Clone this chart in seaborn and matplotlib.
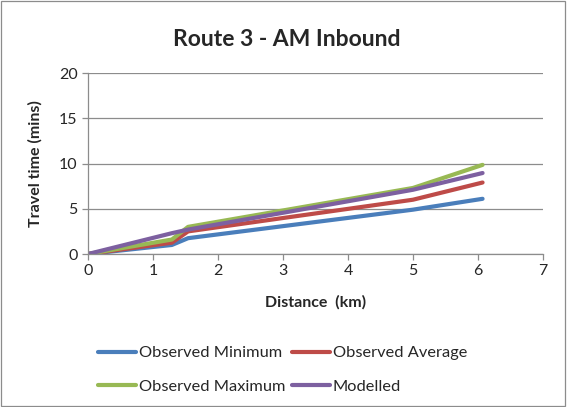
import pandas as pd
import numpy as np
import matplotlib
matplotlib.use('Agg')
import matplotlib.pyplot as plt
import seaborn as sns

# data
distance = [0, 1.29, 1.54, 5.0, 6.07]
obs_min = [0, 1.0, 1.75, 4.9, 6.1]
obs_avg = [0, 1.25, 2.5, 6.0, 7.9]
obs_max = [0, 1.6, 3.0, 7.3, 9.85]
modelled = [0, 2.3, 2.7, 7.1, 8.95]

series_names = ['Observed Minimum', 'Observed Average', 'Observed Maximum', 'Modelled']
colors = ['#4a7ebb', '#be4b48', '#98b954', '#7d60a0']

frames = []
for name, vals in zip(series_names, [obs_min, obs_avg, obs_max, modelled]):
    frames.append(pd.DataFrame({'Distance': distance, 'Time': vals, 'Series': name}))
df = pd.concat(frames, ignore_index=True)

sns.set_style('white')
plt.rcParams['font.family'] = ['Lato', 'DejaVu Sans']

fig = plt.figure(figsize=(5.67, 4.07), dpi=100)
ax = fig.add_axes([0.1552, 0.3759, 0.8025, 0.4447])

sns.lineplot(data=df, x='Distance', y='Time', hue='Series', hue_order=series_names,
             palette=colors, linewidth=3, ax=ax, legend=True)

ax.set_xlim(0, 7)
ax.set_ylim(0, 20)
ax.set_xticks(range(0, 8))
ax.set_yticks(range(0, 21, 5))
ax.yaxis.grid(True, color='#8c8c8c', linewidth=0.9)
ax.set_axisbelow(True)
for s in ['top', 'right']:
    ax.spines[s].set_visible(False)
for s in ['left', 'bottom']:
    ax.spines[s].set_color('#8c8c8c')
    ax.spines[s].set_linewidth(0.9)
ax.tick_params(axis='both', direction='out', length=4, color='#8c8c8c', labelsize=11.5, width=0.9)
ax.tick_params(axis='both', bottom=True, left=True)

ax.set_xlabel('Distance  (km)', fontsize=11.5, fontweight='bold', labelpad=12)
ax.set_ylabel('Travel time (mins)', fontsize=11.5, fontweight='bold', labelpad=12)
fig.text(0.506, 0.902, 'Route 3 - AM Inbound', fontsize=16.5, fontweight='bold',
         ha='center', va='center')

# legend is filled row-wise in the reference
handles, labels = ax.get_legend_handles_labels()
order = [0, 2, 1, 3]
ax.legend([handles[i] for i in order], [labels[i] for i in order],
          loc='upper left', bbox_to_anchor=(98 / 567, 1 - 346 / 407),
          bbox_transform=fig.transFigure, ncol=2, frameon=False, fontsize=11.8,
          handlelength=2.3, handletextpad=0.2, columnspacing=0.4,
          labelspacing=1.15, borderpad=0, borderaxespad=0)

# outer chart border
fig.patches.append(plt.Rectangle((0.002, 0.003), 0.994, 0.994, transform=fig.transFigure,
                                 fill=False, edgecolor='#8c8c8c', linewidth=0.9))

fig.savefig('out.png', dpi=100)
